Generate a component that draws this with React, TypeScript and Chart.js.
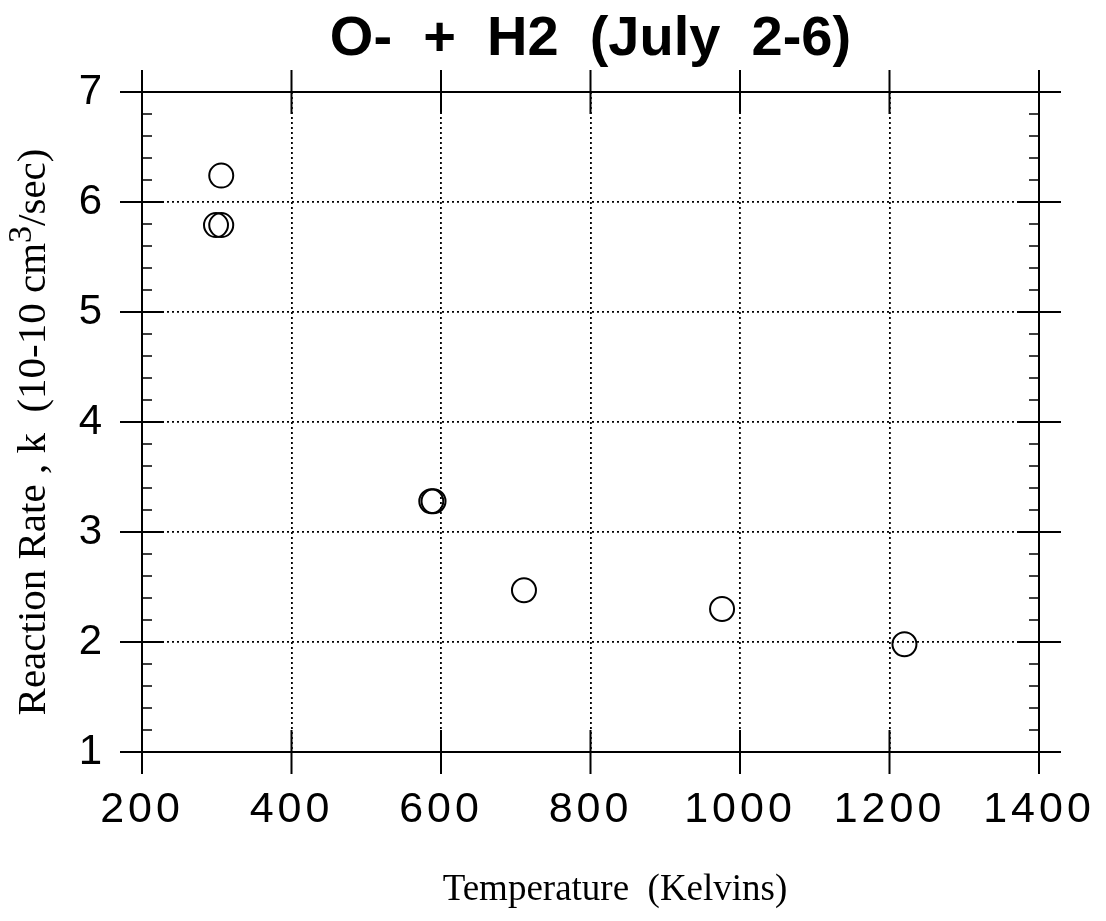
import { useEffect, useRef } from "react";
import { Chart, registerables } from "chart.js";

Chart.register(...registerables);

// ---- data ----
const temperatures = [306, 299, 306, 587, 590, 711, 976, 1220];
const rates = [6.24, 5.79, 5.79, 3.28, 3.28, 2.47, 2.3, 1.98];
const xTicks = [200, 400, 600, 800, 1000, 1200, 1400];
const yTicks = [1, 2, 3, 4, 5, 6, 7];
const yMinorPerMajor = 5;
const titleText = "O-  +  H2  (July  2-6)";
const xTitleText = "Temperature  (Kelvins)";
const yTitleParts = ["Reaction Rate , k  (10-10 cm", "3", "/sec)"];

const framePlugin = {
  id: "frame",
  beforeDraw(chart: any) {
    chart.ctx.letterSpacing = "4px";
  },
  afterDatasetsDraw(chart: any) {
    const { ctx, chartArea: a, scales } = chart;
    const x = scales.x;
    const y = scales.y;
    const L = 22;
    const m = 10;
    ctx.save();
    ctx.strokeStyle = "#000";
    ctx.lineWidth = 2;
    ctx.setLineDash([]);
    ctx.strokeRect(a.left, a.top, a.right - a.left, a.bottom - a.top);
    ctx.beginPath();
    for (const v of xTicks) {
      const px = x.getPixelForValue(v);
      ctx.moveTo(px, a.top - L);
      ctx.lineTo(px, a.top + L);
      ctx.moveTo(px, a.bottom - L);
      ctx.lineTo(px, a.bottom + L);
    }
    for (const v of yTicks) {
      const py = y.getPixelForValue(v);
      ctx.moveTo(a.left - L, py);
      ctx.lineTo(a.left + L, py);
      ctx.moveTo(a.right - L, py);
      ctx.lineTo(a.right + L, py);
    }
    ctx.stroke();
    ctx.lineWidth = 1.6;
    ctx.beginPath();
    for (let i = 0; i < yTicks.length - 1; i++) {
      const step = (yTicks[i + 1] - yTicks[i]) / yMinorPerMajor;
      for (let k = 1; k < yMinorPerMajor; k++) {
        const py = y.getPixelForValue(yTicks[i] + k * step);
        ctx.moveTo(a.left, py);
        ctx.lineTo(a.left + m, py);
        ctx.moveTo(a.right, py);
        ctx.lineTo(a.right - m, py);
      }
    }
    ctx.stroke();
    ctx.restore();
  },
  afterDraw(chart: any) {
    const { ctx, chartArea: a } = chart;
    ctx.save();
    ctx.letterSpacing = "0px";
    ctx.fillStyle = "#000";
    // title
    ctx.font = "bold 56px 'Liberation Sans', Arial, sans-serif";
    ctx.textAlign = "center";
    ctx.textBaseline = "alphabetic";
    ctx.fillText(titleText, (a.left + a.right) / 2, 55);
    // x title
    ctx.font = "37px 'Liberation Serif', 'Times New Roman', serif";
    ctx.fillText(xTitleText, 615, 900);
    // y title with superscript
    ctx.translate(45, 432);
    ctx.rotate(-Math.PI / 2);
    const big = "41px 'Liberation Serif', 'Times New Roman', serif";
    const small = "34px 'Liberation Serif', 'Times New Roman', serif";
    ctx.font = big;
    const w0 = ctx.measureText(yTitleParts[0]).width;
    const w2 = ctx.measureText(yTitleParts[2]).width;
    ctx.font = small;
    const w1 = ctx.measureText(yTitleParts[1]).width;
    let cx = -(w0 + w1 + w2) / 2;
    ctx.textAlign = "left";
    ctx.font = big;
    ctx.fillText(yTitleParts[0], cx, 0);
    cx += w0;
    ctx.font = small;
    ctx.fillText(yTitleParts[1], cx, -14);
    cx += w1;
    ctx.font = big;
    ctx.fillText(yTitleParts[2], cx, 0);
    ctx.restore();
  },
};

export default function App() {
  const ref = useRef<HTMLCanvasElement | null>(null);
  useEffect(() => {
    if (!ref.current) return;
    const chart = new Chart(ref.current, {
      type: "scatter",
      data: {
        datasets: [
          {
            data: temperatures.map((t, i) => ({ x: t, y: rates[i] })),
            pointStyle: "circle",
            pointRadius: 12,
            pointBorderWidth: 2,
            pointBorderColor: "#000",
            pointBackgroundColor: "rgba(0,0,0,0)",
            showLine: false,
          },
        ],
      },
      options: {
        responsive: false,
        animation: false,
        layout: { padding: { left: 0, right: 67, top: 92, bottom: 0 } },
        plugins: {
          legend: { display: false },
          tooltip: { enabled: false },
          title: { display: false },
        },
        scales: {
          x: {
            type: "linear",
            position: "bottom",
            min: 200,
            max: 1400,
            afterBuildTicks: (s: any) => {
              s.ticks = xTicks.map((v) => ({ value: v }));
            },
            ticks: {
              callback: (v: any) => String(v),
              font: { family: "'Liberation Sans', Arial, sans-serif", size: 43 },
              color: "#000",
              padding: 32,
              maxRotation: 0,
              autoSkip: false,
            },
            grid: { color: "#000", lineWidth: 1.8, drawTicks: false },
            border: { display: false, dash: [2, 3] },
            afterFit: (s: any) => {
              s.height = 169;
              s.paddingLeft = 0;
              s.paddingRight = 0;
            },
          },
          y: {
            type: "linear",
            min: 1,
            max: 7,
            afterBuildTicks: (s: any) => {
              s.ticks = yTicks.map((v) => ({ value: v }));
            },
            ticks: {
              callback: (v: any) => String(v),
              font: { family: "'Liberation Sans', Arial, sans-serif", size: 42 },
              color: "#000",
              padding: 36,
              autoSkip: false,
            },
            grid: { color: "#000", lineWidth: 1.8, drawTicks: false },
            border: { display: false, dash: [2, 3] },
            afterFit: (s: any) => {
              s.width = 142;
              s.paddingTop = 0;
              s.paddingBottom = 0;
            },
          },
        },
      },
      plugins: [framePlugin],
    });
    return () => chart.destroy();
  }, []);
  return (
    <div style={{ position: "absolute", left: 0, top: 0, width: 1106, height: 921, background: "#fff" }}>
      <canvas ref={ref} width={1106} height={921} style={{ display: "block" }} />
    </div>
  );
}
